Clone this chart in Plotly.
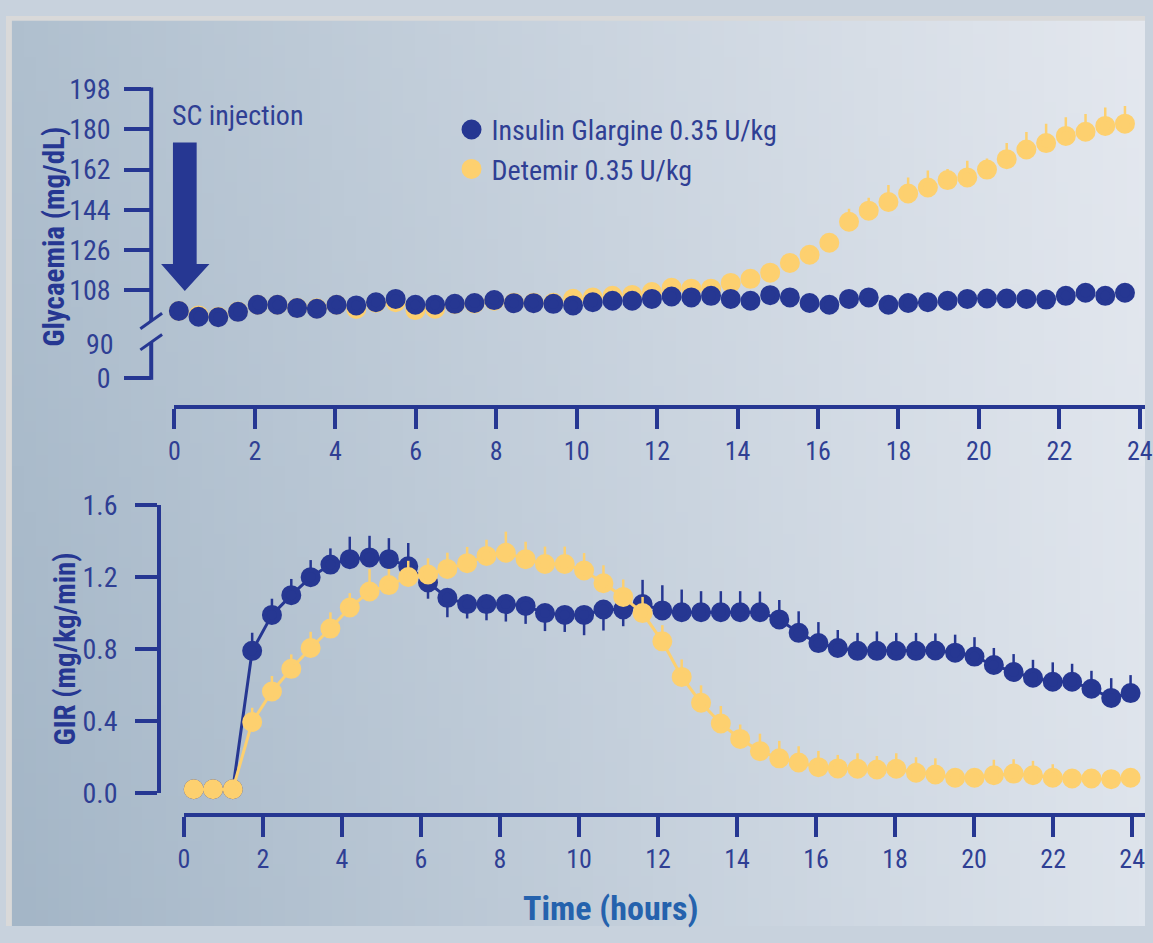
import base64
import struct
import zlib

import numpy as np
import plotly.graph_objects as go

W, H = 1153, 943

# ---------------- data ----------------
# Glycaemia during the clamp (mg/dL), sampled about every half hour
glyc_time = [0.11, 0.60, 1.09, 1.58, 2.07, 2.56, 3.05, 3.54, 4.03, 4.52,
             5.01, 5.50, 5.99, 6.48, 6.97, 7.46, 7.95, 8.44, 8.93, 9.42,
             9.91, 10.40, 10.89, 11.38, 11.87, 12.36, 12.85, 13.34, 13.83, 14.32,
             14.81, 15.30, 15.79, 16.28, 16.77, 17.26, 17.75, 18.24, 18.73, 19.22,
             19.71, 20.20, 20.69, 21.18, 21.67, 22.16, 22.65, 23.14, 23.63]
glargine_glyc = [98.6, 96.0, 95.8, 98.2, 101.4, 101.4, 99.9, 99.6, 101.4, 101.1,
                 102.5, 104.0, 101.4, 101.4, 101.8, 102.2, 103.5, 102.1, 102.1, 101.8,
                 101.1, 102.5, 103.2, 103.2, 104.0, 105.1, 104.7, 105.4, 104.0, 103.2,
                 105.7, 104.7, 102.2, 101.4, 104.0, 104.7, 101.4, 102.2, 102.5, 103.2,
                 104.0, 104.2, 104.2, 104.0, 103.7, 105.4, 106.8, 105.4, 106.8]
detemir_glyc = [98.6, 96.6, 96.0, 98.4, 101.4, 101.4, 100.0, 99.8, 101.4, 99.5,
                102.3, 102.5, 99.0, 99.6, 101.6, 102.0, 103.2, 102.3, 102.3, 102.3,
                104.1, 104.7, 105.4, 105.8, 107.1, 109.0, 108.6, 108.6, 111.2, 113.0,
                115.8, 120.1, 123.8, 129.2, 138.6, 143.6, 147.5, 151.3, 154.0, 157.3,
                158.5, 162.0, 166.7, 171.0, 173.9, 177.1, 179.0, 181.6, 182.6]
detemir_glyc_err = [3, 3, 3, 3, 3, 3, 3, 3, 3, 3,
                    3, 3, 3, 3, 3, 3, 3, 3, 3, 3,
                    3, 3, 3, 3, 3, 3, 3, 3, 3, 3,
                    3, 3, 3, 4, 5.8, 5.8, 7.6, 7.2, 7.6, 5,
                    7.5, 5, 7.2, 7.9, 8.7, 8.4, 7.9, 8.2, 7.9]

# Glucose infusion rate (mg/kg/min)
gir_time = [0.25, 0.74, 1.24, 1.73, 2.23, 2.72, 3.21, 3.71, 4.20, 4.70,
            5.19, 5.68, 6.18, 6.67, 7.17, 7.66, 8.15, 8.65, 9.14, 9.64,
            10.13, 10.62, 11.12, 11.61, 12.11, 12.60, 13.09, 13.59, 14.08, 14.58,
            15.07, 15.56, 16.06, 16.55, 17.05, 17.54, 18.03, 18.53, 19.02, 19.52,
            20.01, 20.50, 21.00, 21.49, 21.99, 22.48, 22.97, 23.47, 23.96]
glargine_gir = [0.02, 0.02, 0.02, 0.79, 0.99, 1.10, 1.20, 1.27, 1.30, 1.31,
                1.30, 1.26, 1.17, 1.085, 1.05, 1.05, 1.05, 1.04, 1.00, 0.99,
                0.99, 1.02, 1.02, 1.05, 1.015, 1.005, 1.005, 1.005, 1.005, 1.005,
                0.965, 0.89, 0.833, 0.806, 0.79, 0.79, 0.79, 0.79, 0.792, 0.78,
                0.758, 0.711, 0.672, 0.64, 0.618, 0.618, 0.579, 0.528, 0.555]
glargine_gir_err_up = [0, 0, 0, 0.10, 0.09, 0.09, 0.095, 0.09, 0.125, 0.12,
                       0.117, 0.13, 0, 0, 0, 0, 0, 0, 0, 0,
                       0, 0, 0, 0.135, 0.14, 0.126, 0.117, 0.117, 0.117, 0.115,
                       0.108, 0.12, 0.117, 0.10, 0.10, 0.108, 0.10, 0.10, 0.095, 0.10,
                       0.108, 0.095, 0.10, 0.10, 0.108, 0.10, 0.10, 0.11, 0.10]
glargine_gir_err_down = [0, 0, 0, 0, 0, 0, 0, 0, 0, 0,
                         0, 0, 0.09, 0.108, 0.08, 0.09, 0.097, 0.10, 0.10, 0.095,
                         0.113, 0.117, 0.093, 0, 0, 0, 0, 0, 0, 0,
                         0, 0, 0, 0, 0, 0, 0, 0, 0, 0,
                         0, 0, 0, 0, 0, 0, 0, 0, 0]
detemir_gir = [0.02, 0.02, 0.02, 0.394, 0.564, 0.69, 0.806, 0.914, 1.031, 1.12,
               1.156, 1.201, 1.215, 1.246, 1.278, 1.318, 1.336, 1.30, 1.273, 1.273,
               1.237, 1.166, 1.09, 1.0, 0.843, 0.645, 0.501, 0.386, 0.30, 0.232,
               0.192, 0.169, 0.143, 0.136, 0.134, 0.130, 0.134, 0.112, 0.102, 0.084,
               0.084, 0.098, 0.107, 0.098, 0.084, 0.080, 0.080, 0.076, 0.084]
detemir_gir_err = [0, 0, 0, 0.08, 0.086, 0.08, 0.09, 0.09, 0.08, 0.125,
                   0.09, 0.09, 0.09, 0.09, 0.09, 0.09, 0.117, 0.097, 0.097, 0.097,
                   0.097, 0.10, 0.097, 0.09, 0.09, 0.097, 0.097, 0.097, 0.08, 0.097,
                   0.097, 0.09, 0.09, 0.075, 0.086, 0.075, 0.086, 0.086, 0.09, 0.05,
                   0.05, 0.086, 0.08, 0.08, 0.075, 0.05, 0.05, 0.05, 0.05]

hour_ticks = [0, 2, 4, 6, 8, 10, 12, 14, 16, 18, 20, 22, 24]
glyc_ticks = [108, 126, 144, 162, 180, 198]
gir_ticks = [0.0, 0.4, 0.8, 1.2, 1.6]

# ---------------- style ----------------
NAVY = "#263792"
GOLD = "#fdd06f"
TXT = "#2f3f94"
TIME_BLUE = "#2562ad"
NARROW = "Liberation Sans Narrow, Arial Narrow, Roboto Condensed, sans-serif"

# pixel geometry of the two panels
TOP_Y0_PX, TOP_Y1_PX = 375.0, 76.0        # broken-axis "0" and 198
TOP_LOW = 68.6                              # axis value standing in for "0"
TOP_HIGH = 198.0
TOP_X0_PX, TOP_PX_PER_H = 170.5, 40.72
BOT_Y0_PX, BOT_Y1_PX = 805.0, 507.0
BOT_X0_PX, BOT_PX_PER_H = 180.0, 40.0


def py(px):
    return 1 - px / H


def px_(px):
    return px / W


# ---------------- background gradient ----------------
def png_uri(rgb):
    h, w, _ = rgb.shape
    raw = b"".join(b"\x00" + rgb[r].tobytes() for r in range(h))

    def chunk(tag, data):
        c = struct.pack(">I", len(data)) + tag + data
        return c + struct.pack(">I", zlib.crc32(tag + data) & 0xFFFFFFFF)

    png = (b"\x89PNG\r\n\x1a\n"
           + chunk(b"IHDR", struct.pack(">IIBBBBB", w, h, 8, 2, 0, 0, 0))
           + chunk(b"IDAT", zlib.compress(raw, 9))
           + chunk(b"IEND", b""))
    return "data:image/png;base64," + base64.b64encode(png).decode()


gw, gh = 96, 80
u = np.linspace(0, 1, gw)[None, :, None]
v = np.linspace(0, 1, gh)[:, None, None]
tl = np.array([176, 192, 207], float)
bl = np.array([164, 182, 199], float)
tr = np.array([228, 232, 239], float)
br = np.array([222, 228, 236], float)
grad = (tl * (1 - u) * (1 - v) + tr * u * (1 - v) + bl * (1 - u) * v + br * u * v)
grad = np.clip(grad, 0, 255).astype(np.uint8)
bg_uri = png_uri(grad)

fig = go.Figure()

# ---------------- glycaemia panel ----------------
fig.add_trace(go.Scatter(
    x=glyc_time, y=detemir_glyc, name="Detemir 0.35 U/kg", legendrank=2,
    mode="markers",
    marker=dict(color=GOLD, size=15, line=dict(width=5, color=GOLD)),
    error_y=dict(type="data", symmetric=False, array=detemir_glyc_err,
                 arrayminus=[0] * len(detemir_glyc_err), color=GOLD, thickness=2.5, width=0),
    cliponaxis=False, xaxis="x", yaxis="y"))
fig.add_trace(go.Scatter(
    x=glyc_time, y=glargine_glyc, name="Insulin Glargine 0.35 U/kg", legendrank=1,
    mode="markers",
    marker=dict(color=NAVY, size=15, line=dict(width=5, color=NAVY)),
    cliponaxis=False, xaxis="x", yaxis="y"))

# ---------------- GIR panel ----------------
fig.add_trace(go.Scatter(
    x=gir_time, y=glargine_gir, showlegend=False,
    mode="lines+markers", line=dict(color=NAVY, width=3),
    marker=dict(color=NAVY, size=15, line=dict(width=5, color=NAVY)),
    error_y=dict(type="data", symmetric=False, array=glargine_gir_err_up,
                 arrayminus=glargine_gir_err_down, color=NAVY, thickness=2.5, width=0),
    cliponaxis=False, xaxis="x2", yaxis="y2"))
fig.add_trace(go.Scatter(
    x=gir_time, y=detemir_gir, showlegend=False,
    mode="lines+markers", line=dict(color=GOLD, width=3),
    marker=dict(color=GOLD, size=15, line=dict(width=5, color=GOLD)),
    error_y=dict(type="data", symmetric=False, array=detemir_gir_err,
                 arrayminus=[0] * len(detemir_gir_err), color=GOLD, thickness=2.5, width=0),
    cliponaxis=False, xaxis="x2", yaxis="y2"))

tick_font_y = dict(family=NARROW, size=28, color=TXT)
tick_font_x = dict(family=NARROW, size=26, color=TXT)

axis_common = dict(showgrid=False, zeroline=False, ticks="outside",
                   tickcolor=NAVY, tickwidth=3.5, linecolor=NAVY, linewidth=4,
                   fixedrange=True, ticklabeloverflow="allow")

fig.update_layout(
    width=W, height=H,
    margin=dict(l=0, r=0, t=0, b=0),
    paper_bgcolor="#c8d2dd",
    plot_bgcolor="rgba(0,0,0,0)",
    showlegend=True,
    legend=dict(x=px_(451), y=py(92), xanchor="left", yanchor="top",
                bgcolor="rgba(0,0,0,0)", font=dict(family=NARROW, size=28, color=TXT),
                tracegroupgap=0, itemclick=False),
    xaxis=dict(axis_common, domain=[px_(TOP_X0_PX), 1],
               range=[0, (W - TOP_X0_PX) / TOP_PX_PER_H],
               anchor="free", position=py(405), side="bottom",
               tickvals=hour_ticks, ticklen=20, showline=True,
               tickfont=tick_font_x),
    yaxis=dict(axis_common, domain=[py(TOP_Y0_PX), py(TOP_Y1_PX)],
               range=[TOP_LOW, TOP_HIGH], anchor="free", position=px_(147),
               tickvals=[TOP_LOW] + glyc_ticks,
               ticktext=["0"] + [str(t) for t in glyc_ticks],
               ticklen=27, showline=False, ticklabelstandoff=8,
               tickfont=tick_font_y),
    xaxis2=dict(axis_common, domain=[px_(BOT_X0_PX), 1],
                range=[0, (W - BOT_X0_PX) / BOT_PX_PER_H],
                anchor="free", position=py(828), side="bottom",
                tickvals=hour_ticks, ticklen=20, showline=True,
                tickfont=tick_font_x),
    yaxis2=dict(axis_common, domain=[py(BOT_Y0_PX), py(BOT_Y1_PX)],
                range=[0, 1.6], anchor="free", position=px_(155),
                tickvals=gir_ticks, tickformat=".1f",
                ticklen=22, showline=True, ticklabelstandoff=12,
                tickfont=tick_font_y),
    images=[dict(source=bg_uri, xref="paper", yref="paper", x=0, y=1,
                 sizex=1, sizey=1, sizing="stretch", layer="below",
                 xanchor="left", yanchor="top")],
)

# broken glycaemia axis: two line segments with a pair of break slashes
ax_x = px_(147)
break_hi, break_lo = 316.0, 338.0
shapes = [
    dict(type="line", xref="paper", yref="paper", x0=ax_x, x1=ax_x,
         y0=py(TOP_Y1_PX - 2), y1=py(break_hi), line=dict(color=NAVY, width=4)),
    dict(type="line", xref="paper", yref="paper", x0=ax_x, x1=ax_x,
         y0=py(break_lo), y1=py(TOP_Y0_PX + 2), line=dict(color=NAVY, width=4)),
    dict(type="line", xref="paper", yref="paper", x0=px_(136), x1=px_(158),
         y0=py(break_hi + 8), y1=py(break_hi - 8), line=dict(color=NAVY, width=3)),
    dict(type="line", xref="paper", yref="paper", x0=px_(136), x1=px_(158),
         y0=py(break_lo + 8), y1=py(break_lo - 8), line=dict(color=NAVY, width=3)),
    # light frame on the left and top edges
    dict(type="rect", xref="paper", yref="paper", x0=0, x1=px_(6), y0=0, y1=1,
         fillcolor="#d9d9d9", line=dict(width=0), layer="below"),
    dict(type="rect", xref="paper", yref="paper", x0=0, x1=1, y0=py(5), y1=1,
         fillcolor="#d9d9d9", line=dict(width=0), layer="below"),
]

# injection arrow
arrow_pts = [(169, 131), (193, 131), (193, 257), (206, 257), (181, 285), (157, 257), (169, 257)]
path = "M " + " L ".join(f"{px_(x):.5f},{py(y):.5f}" for x, y in arrow_pts) + " Z"
shapes.append(dict(type="path", xref="paper", yref="paper", path=path,
                   fillcolor=NAVY, line=dict(width=0)))
fig.update_layout(shapes=shapes)

annotations = [
    dict(text="SC injection", xref="paper", yref="paper", x=px_(166), y=py(103),
         xanchor="left", yanchor="middle", showarrow=False,
         font=dict(family=NARROW, size=28, color=TXT)),
    dict(text="90", xref="paper", yref="paper", x=px_(111), y=py(340),
         xanchor="right", yanchor="middle", showarrow=False, font=tick_font_y),
    dict(text="<b>Glycaemia (mg/dL)</b>", xref="paper", yref="paper", x=px_(49), y=py(228),
         xanchor="center", yanchor="middle", textangle=-90, showarrow=False,
         font=dict(family=NARROW, size=29, color=NAVY)),
    dict(text="<b>GIR (mg/kg/min)</b>", xref="paper", yref="paper", x=px_(60), y=py(656),
         xanchor="center", yanchor="middle", textangle=-90, showarrow=False,
         font=dict(family=NARROW, size=29, color=NAVY)),
    dict(text="<b>Time (hours)</b>", xref="paper", yref="paper", x=px_(612), y=py(924),
         xanchor="center", yanchor="middle", showarrow=False,
         font=dict(family=NARROW, size=34, color=TIME_BLUE)),
]
fig.update_layout(annotations=annotations)

fig.write_html("out.html")
